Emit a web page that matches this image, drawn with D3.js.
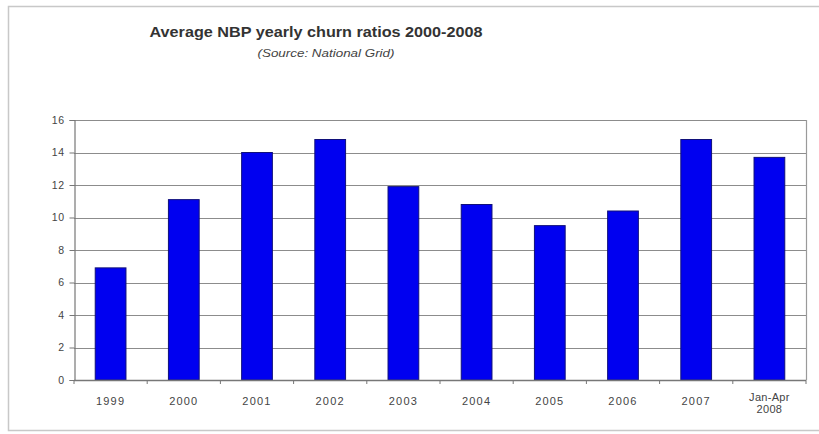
<!DOCTYPE html>
<html><head><meta charset="utf-8">
<script src="https://cdn.jsdelivr.net/npm/d3@7"></script>
<style>body{margin:0;background:#fff}svg{display:block}text{font-family:"Liberation Sans",Arial,sans-serif}</style>
</head><body>
<svg id="c" width="819" height="434"></svg>
<script>
const categories = ["1999","2000","2001","2002","2003","2004","2005","2006","2007","Jan-Apr\n2008"];
const values = [6.9, 11.1, 14.0, 14.8, 11.9, 10.8, 9.5, 10.4, 14.8, 13.7];
const yTicks = [0,2,4,6,8,10,12,14,16];
const title = "Average NBP yearly churn ratios 2000-2008";
const subtitle = "(Source: National Grid)";

const svg = d3.select("#c");
const m = {l:74, r:806, t:120, b:380};

// outer frame
svg.append("path").attr("d","M819,6.5H8.5V430.5H819").attr("fill","none").attr("stroke","#c8c8c8").attr("stroke-width",1.5);

const x = d3.scaleBand().domain(categories).range([m.l,m.r]).paddingInner(0.58).paddingOuter(0.29);
const y = d3.scaleLinear().domain([0,16]).range([m.b,m.t]);

// gridlines
svg.append("g").selectAll("line").data(yTicks.filter(d=>d>0)).join("line")
  .attr("x1",m.l).attr("x2",m.r).attr("y1",d=>Math.round(y(d))+0.5).attr("y2",d=>Math.round(y(d))+0.5)
  .attr("stroke","#8c8c8c").attr("stroke-width",1.2);
// right border
svg.append("line").attr("x1",m.r+0.5).attr("x2",m.r+0.5).attr("y1",m.t).attr("y2",m.b).attr("stroke","#9a9a9a").attr("stroke-width",1.2);

// bars
svg.append("g").selectAll("rect").data(values).join("rect")
  .attr("x",(d,i)=>x(categories[i])).attr("width",x.bandwidth())
  .attr("y",d=>y(d)).attr("height",d=>y(0)-y(d))
  .attr("fill","#0000f0").attr("stroke","#10107a").attr("stroke-width",1);

// y axis
const ya = svg.append("g").attr("transform",`translate(${m.l+0.5},0)`)
  .call(d3.axisLeft(y).tickValues(yTicks).tickSize(5).tickPadding(5).tickFormat(d3.format("d")));
ya.select(".domain").attr("stroke","#777").attr("stroke-width",1.2);
ya.selectAll(".tick line").attr("stroke","#777");
ya.selectAll("text").attr("fill","#444").style("font-size","10.5px").style("letter-spacing","0.5px");

// x axis line + ticks at boundaries
const bounds = d3.range(categories.length+1).map(i=>m.l + i*(m.r-m.l)/categories.length);
svg.append("line").attr("x1",m.l).attr("x2",m.r).attr("y1",m.b+0.5).attr("y2",m.b+0.5).attr("stroke","#777").attr("stroke-width",1.4);
svg.append("g").selectAll("line").data(bounds).join("line")
  .attr("x1",d=>d).attr("x2",d=>d).attr("y1",m.b).attr("y2",m.b+4).attr("stroke","#777");

// x labels
const xl = svg.append("g").selectAll("text").data(categories).join("text")
  .attr("x",d=>x(d)+x.bandwidth()/2).attr("y",405).attr("text-anchor","middle")
  .attr("fill","#444").style("font-size","11px").style("letter-spacing","1.2px");
xl.each(function(d){
  const parts = d.split("\n");
  const t = d3.select(this);
  if(parts.length>1){
    t.attr("y",401).style("letter-spacing","0.3px");
    parts.forEach((p,i)=>t.append("tspan").attr("x",x(d)+x.bandwidth()/2).attr("dy",i?12:0).text(p));
  } else t.text(d);
});

// titles
svg.append("text").attr("x",316).attr("y",37).attr("text-anchor","middle")
  .attr("textLength",333).attr("lengthAdjust","spacingAndGlyphs")
  .style("font-size","14px").style("font-weight","bold").attr("fill","#333").text(title);
svg.append("text").attr("x",326).attr("y",57).attr("text-anchor","middle")
  .attr("textLength",137).attr("lengthAdjust","spacingAndGlyphs")
  .style("font-size","10px").style("font-style","italic").attr("fill","#444").text(subtitle);
</script>
</body></html>
